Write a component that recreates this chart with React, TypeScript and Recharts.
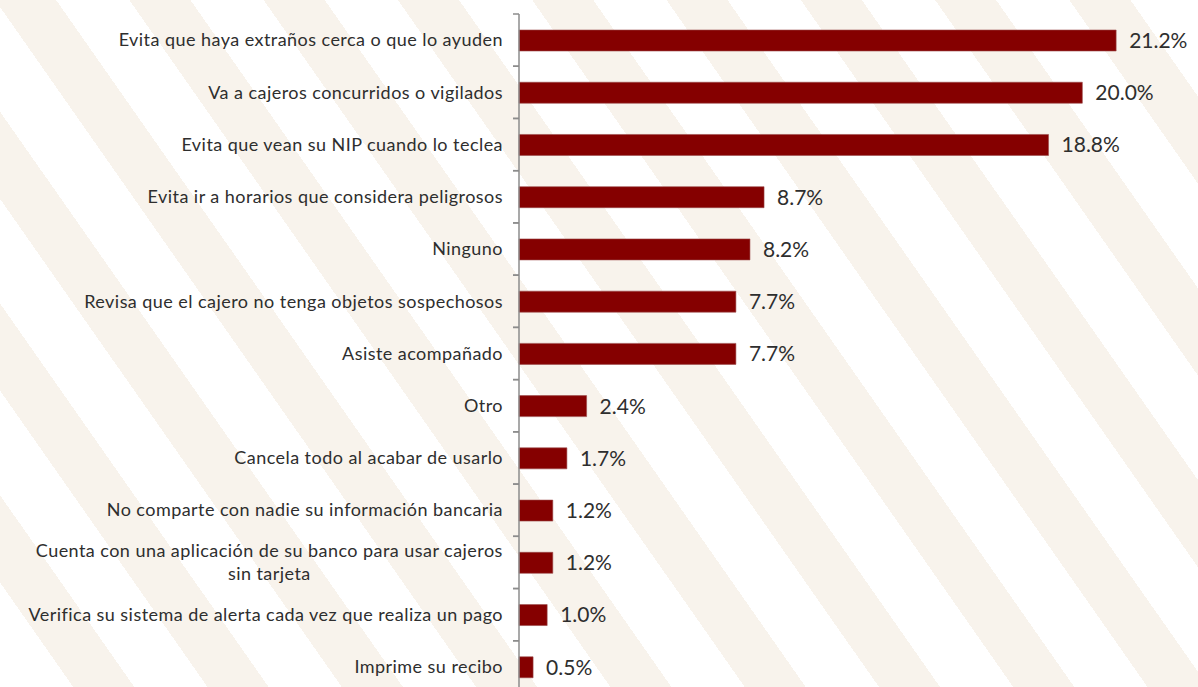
import React from 'react'
import { BarChart, Bar, XAxis, YAxis, LabelList } from 'recharts'

const CATEGORIES = [
  'Evita que haya extraños cerca o que lo ayuden',
  'Va a cajeros concurridos o vigilados',
  'Evita que vean su NIP cuando lo teclea',
  'Evita ir a horarios que considera peligrosos',
  'Ninguno',
  'Revisa que el cajero no tenga objetos sospechosos',
  'Asiste acompañado',
  'Otro',
  'Cancela todo al acabar de usarlo',
  'No comparte con nadie su información bancaria',
  'Cuenta con una aplicación de su banco para usar cajeros\nsin tarjeta',
  'Verifica su sistema de alerta cada vez que realiza un pago',
  'Imprime su recibo',
]

const VALUES = [21.2, 20.0, 18.8, 8.7, 8.2, 7.7, 7.7, 2.4, 1.7, 1.2, 1.2, 1.0, 0.5]

const FONT = 'Lato, "Open Sans", sans-serif'
const TEXT = '#2e2e2e'
const BAR = '#850000'
const AXIS = '#8c8c8c'

const data = CATEGORIES.map((c, i) => ({ name: c, value: VALUES[i] }))

const LABEL_SIZE = 18
const LABEL_SPACING = 0.45

let ctx: CanvasRenderingContext2D | null = null
function textWidth(s: string) {
  if (!ctx) ctx = document.createElement('canvas').getContext('2d')
  if (!ctx) return s.length * LABEL_SIZE * 0.5
  ctx.font = `${LABEL_SIZE}px ${FONT}`
  return ctx.measureText(s).width + s.length * LABEL_SPACING
}

// category label plus the small tick marks that sit between categories
function CategoryTick({ x, y, payload, band }: any) {
  const lines: string[] = String(payload.value).split('\n')
  const right = x - 16
  const half = band / 2
  const widest = Math.max(...lines.map(l => textWidth(l)))
  const lh = 23
  const y0 = y - ((lines.length - 1) * lh) / 2
  return (
    <g>
      <line x1={x - 6} x2={x} y1={y - half} y2={y - half} stroke={AXIS} strokeWidth={1.5} />
      <line x1={x - 6} x2={x} y1={y + half} y2={y + half} stroke={AXIS} strokeWidth={1.5} />
      {lines.map((l, i) => (
        <text
          key={i}
          x={lines.length > 1 ? right - widest / 2 : right}
          y={y0 + i * lh}
          dy="0.35em"
          textAnchor={lines.length > 1 ? 'middle' : 'end'}
          fontFamily={FONT}
          fontSize={LABEL_SIZE}
          letterSpacing={LABEL_SPACING}
          fill={TEXT}
        >
          {l}
        </text>
      ))}
    </g>
  )
}

export default function App() {
  const height = 700
  const top = 14
  const bottom = 7
  const band = (height - top - bottom) / CATEGORIES.length
  return (
    <div style={{
      position: 'absolute', left: 0, top: 0, width: 1198, height: 687, overflow: 'hidden',
      background: 'repeating-linear-gradient(55deg, #ffffff 0px, #ffffff 60px, #f8f3ec 60px, #f8f3ec 110px)',
    }}>
      <BarChart
        width={1198}
        height={height}
        data={data}
        layout="vertical"
        margin={{ top, right: 3, bottom, left: 0 }}
        barSize={21}
      >
        <XAxis type="number" domain={[0, 24]} hide />
        <YAxis
          type="category"
          dataKey="name"
          width={519}
          interval={0}
          axisLine={{ stroke: AXIS, strokeWidth: 1.5 }}
          tickLine={false}
          tickSize={0}
          tickMargin={0}
          tick={<CategoryTick band={band} />}
        />
        <Bar dataKey="value" fill={BAR} stroke="#9a4a4a" strokeWidth={0.6} isAnimationActive={false}>
          <LabelList
            dataKey="value"
            position="right"
            offset={13}
            formatter={(v: any) => `${Number(v).toFixed(1)}%`}
            style={{ fontFamily: FONT, fontSize: 21, fill: TEXT }}
          />
        </Bar>
      </BarChart>
    </div>
  )
}
